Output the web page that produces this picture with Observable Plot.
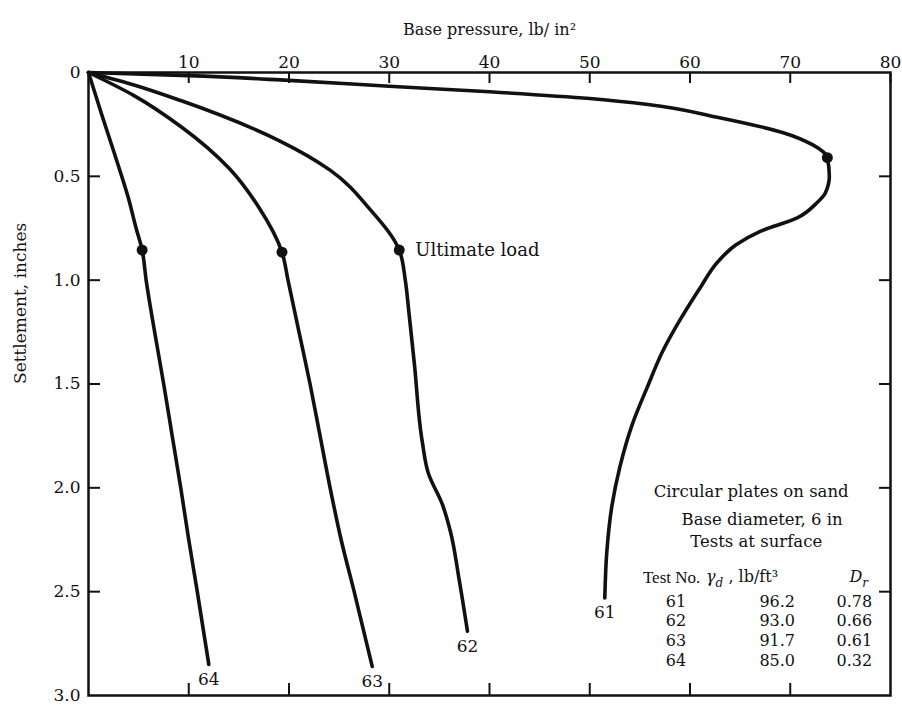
<!DOCTYPE html>
<html><head><meta charset="utf-8">
<script src="https://cdn.jsdelivr.net/npm/d3@7"></script>
<script src="https://cdn.jsdelivr.net/npm/@observablehq/plot@0.6"></script>
<style>body{margin:0;background:#fff;}</style>
</head><body><div id="chart"></div>
<script>
// ---- data ----
const xTicks = [10, 20, 30, 40, 50, 60, 70, 80];
const xMinorTicks = [10, 20, 30, 40, 50, 60, 70];
const yTicks = [0, 0.5, 1, 1.5, 2, 2.5, 3];
const yTickLabels = ["0", "0.5", "1.0", "1.5", "2.0", "2.5", "3.0"];
const xLabel = "Base pressure, lb/ in²";
const yLabel = "Settlement, inches";

// [base pressure (lb/in²), settlement (in)]
const test61 = [[0,0],[10,0.015],[20,0.038],[30,0.066],[40,0.093],[50,0.125],[56,0.155],[62.7,0.215],[69.3,0.29],[72.3,0.35],[73.7,0.41],[73.9,0.5],[73.5,0.58],[72.6,0.63],[70.7,0.70],[67.0,0.765],[64.6,0.83],[62.8,0.91],[61.1,1.03],[58.9,1.20],[57.3,1.34],[55.7,1.52],[54.2,1.70],[53.0,1.90],[52.2,2.09],[51.7,2.31],[51.5,2.53]];
const test62 = [[0,0],[4.2,0.055],[9.2,0.135],[19.1,0.33],[24.1,0.47],[28.1,0.66],[31.0,0.855],[31.6,1.0],[31.95,1.15],[32.5,1.40],[33.3,1.78],[33.9,1.93],[35.3,2.08],[36.1,2.21],[37.0,2.45],[37.8,2.69]];
const test63 = [[0,0],[4.5,0.11],[9.2,0.26],[14.0,0.46],[17.0,0.65],[19.3,0.865],[19.9,1.0],[21.0,1.25],[22.1,1.5],[23.1,1.75],[24.1,2.0],[25.2,2.25],[26.5,2.5],[28.3,2.86]];
const test64 = [[0,0],[1.3,0.2],[2.65,0.4],[3.95,0.6],[4.75,0.75],[5.35,0.855],[5.75,1.0],[6.6,1.25],[7.5,1.5],[8.35,1.75],[9.2,2.0],[10.0,2.25],[10.85,2.5],[12.0,2.85]];
const testNames = ["61", "62", "63", "64"];
const ultimateLoad = [[73.7,0.41],[31.0,0.855],[19.3,0.865],[5.35,0.855]];
const ultimateText = "Ultimate load";

const legendTitle = ["Circular plates on sand", "Base diameter, 6 in", "Tests at surface"];
const tableHeader = ["Test No.", "γd , lb/ft³", "Dr"];
const tableTest = ["61", "62", "63", "64"];
const tableGamma = ["96.2", "93.0", "91.7", "85.0"];
const tableDr = ["0.78", "0.66", "0.61", "0.32"];

// ---- build ----
const series = [test61, test62, test63, test64];
const rows = series.flatMap((s, k) => s.map(([p, st]) => ({test: testNames[k], p, s: st})));
const ends = series.map((s, k) => ({test: testNames[k], p: s[s.length-1][0], s: s[s.length-1][1]}));
const ult = ultimateLoad.map(([p, s]) => ({p, s}));
const rowY = (d, i) => 2.547 + i * 0.095;

const font = "DejaVu Serif";
const chart = Plot.plot({
  width: 902, height: 709,
  marginLeft: 88, marginTop: 72, marginRight: 12, marginBottom: 14,
  style: {fontFamily: font, fontSize: "17px", color: "#111", background: "#fff"},
  x: {domain: [0, 80]},
  y: {domain: [0, 3], reverse: true},
  marks: [
    Plot.frame({stroke: "#111", strokeWidth: 2.5}),
    // tick labels
    Plot.axisX({anchor: "top", ticks: xTicks, tickSize: 0, tickPadding: 5, label: null, fontSize: 17}),
    Plot.axisY({anchor: "left", ticks: yTicks, tickSize: 0, tickPadding: 8, tickFormat: d => yTickLabels[yTicks.indexOf(d)], label: null, fontSize: 17}),
    // inward ticks on all sides
    Plot.axisX({anchor: "top", ticks: xTicks, tickSize: -10, tickFormat: () => "", label: null, strokeWidth: 2}),
    Plot.axisX({anchor: "bottom", ticks: xMinorTicks, tickSize: -12, tickFormat: () => "", label: null, strokeWidth: 2}),
    Plot.axisY({anchor: "left", ticks: yTicks.slice(1, -1), tickSize: -12, tickFormat: () => "", label: null, strokeWidth: 2}),
    Plot.axisY({anchor: "right", ticks: yTicks.slice(1, -1), tickSize: -12, tickFormat: () => "", label: null, strokeWidth: 2}),
    // axis titles
    Plot.text([xLabel], {frameAnchor: "top", dy: -49, fontSize: 16}),
    Plot.text([yLabel], {frameAnchor: "left", dx: -68, rotate: -90, fontSize: 17}),
    // curves
    Plot.line(rows, {x: "p", y: "s", z: "test", curve: "monotone-y", stroke: "#111", strokeWidth: 3.6}),
    Plot.dot(ult, {x: "p", y: "s", r: 5.5, fill: "#111"}),
    Plot.text([ult[1]], {x: "p", y: "s", text: () => ultimateText, textAnchor: "start", dx: 16, fontSize: 18}),
    Plot.text(ends, {x: "p", y: "s", text: "test", dy: 15, fontSize: 17}),
    // legend block
    Plot.text(legendTitle, {x: [66.1, 67.2, 66.6], y: [2.02, 2.155, 2.26], text: d => d, fontSize: 16.5}),
    Plot.text(tableHeader, {x: [55.3, 61.6, 75.9], y: [2.43, 2.43, 2.43], text: d => d, textAnchor: "start", fontSize: 16}),
    Plot.text(tableTest, {x: 58.6, y: rowY, text: d => d, fontSize: 16}),
    Plot.text(tableGamma, {x: 68.7, y: rowY, text: d => d, fontSize: 16}),
    Plot.text(tableDr, {x: 76.4, y: rowY, text: d => d, fontSize: 16})
  ]
});

// subscripts / italics in the table header
d3.select(chart).selectAll("text").each(function() {
  const t = this.textContent;
  if (t === "γd , lb/ft³") {
    const s = d3.select(this); s.text("");
    s.append("tspan").attr("font-style", "italic").text("γ");
    s.append("tspan").attr("font-style", "italic").attr("font-size", "12px").attr("dy", "5").text("d");
    s.append("tspan").attr("dy", "-5").text(" , lb/ft³");
  } else if (t === "Dr") {
    const s = d3.select(this); s.text("");
    s.append("tspan").attr("font-style", "italic").text("D");
    s.append("tspan").attr("font-style", "italic").attr("font-size", "12px").attr("dy", "5").text("r");
  } else if (t === "Test No.") {
    d3.select(this).style("font-family", "Liberation Serif").style("font-size", "17px");
  }
});
document.getElementById("chart").append(chart);
</script></body></html>
